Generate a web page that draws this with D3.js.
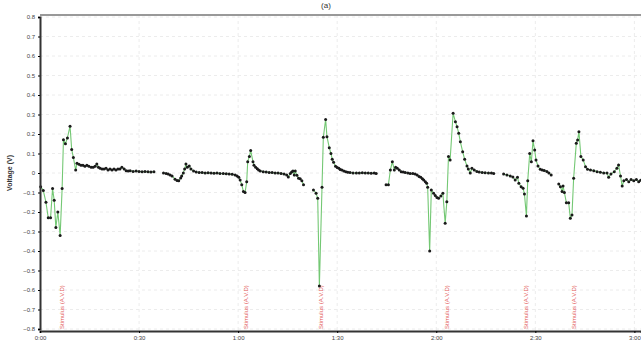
<!DOCTYPE html>
<html>
<head>
<meta charset="utf-8">
<script src="https://cdn.jsdelivr.net/npm/d3@7"></script>
<style>
  body { margin: 0; background: #fff; }
  svg { display: block; font-family: "Liberation Sans", Arial, sans-serif; }
</style>
</head>
<body>
<svg id="chart" width="641" height="349"></svg>
<script>
// time in seconds, voltage in volts; null breaks the trace
const readings = [
  [0.2,-0.07],[1.0,-0.09],[1.8,-0.15],[2.5,-0.23],[3.2,-0.23],[3.8,-0.08],[4.3,-0.14],[4.8,-0.28],
  [5.4,-0.20],[6.1,-0.32],[6.7,-0.08],[7.1,0.17],[7.7,0.15],[8.3,0.18],[9.1,0.24],[9.6,0.12],
  [10.1,0.08],[10.8,0.015],[11.2,0.05],[11.8,0.045],[12.4,0.04],[13.0,0.04],[13.6,0.035],[14.2,0.04],
  [14.8,0.035],[15.5,0.03],[16.1,0.03],[16.7,0.035],[17.2,0.046],[17.7,0.03],[18.2,0.025],[18.8,0.02],
  [19.4,0.02],[20.0,0.025],[20.6,0.015],[21.2,0.02],[21.8,0.015],[22.4,0.02],[23.0,0.015],[23.6,0.02],
  [24.2,0.02],[24.8,0.03],[25.5,0.02],[26.1,0.012],[26.7,0.01],[27.3,0.012],[28.2,0.008],[29.1,0.01],
  [30.0,0.008],[30.9,0.007],[31.8,0.008],[32.7,0.006],[33.6,0.005],[34.5,0.006],
  null,
  [37.4,0.0],[38.2,-0.003],[38.8,-0.005],[39.4,-0.01],[40.0,-0.015],[40.9,-0.032],[41.5,-0.038],[42.0,-0.04],
  [42.6,-0.025],[42.9,-0.015],[43.4,0.0],[43.8,0.02],[44.2,0.046],[44.6,0.03],[45.2,0.036],[45.7,0.02],
  [46.5,0.01],[47.3,0.005],[48.2,0.003],[49.1,0.002],[50.0,0.0],[50.9,0.001],[51.8,0.0],[52.7,-0.001],
  [53.6,0.0],[54.5,-0.002],[55.5,-0.003],[56.4,-0.004],[57.3,-0.005],[58.2,-0.007],[59.1,-0.01],[59.7,-0.015],
  [60.2,-0.022],[60.6,-0.036],[61.1,-0.06],[61.6,-0.095],[62.1,-0.1],[62.6,-0.045],[62.9,0.058],[63.4,0.085],
  [63.8,0.115],[64.5,0.058],[64.8,0.04],[65.3,0.03],[65.8,0.022],[66.2,0.015],[66.7,0.01],[67.6,0.007],
  [68.5,0.005],[69.4,0.003],[70.3,0.002],[71.2,0.0],[72.1,0.0],[73.0,-0.002],[73.9,-0.005],[74.7,-0.01],
  [75.2,-0.02],[75.8,-0.003],[76.2,0.005],[76.6,0.01],[77.0,-0.01],[77.3,0.01],[77.8,-0.012],[78.3,-0.027],
  [78.8,-0.03],[79.3,-0.04],[79.8,-0.06],
  null,
  [82.8,-0.087],[83.6,-0.104],[84.1,-0.13],[84.6,-0.58],[85.4,-0.073],[85.8,0.183],[86.5,0.275],[86.9,0.186],
  [87.6,0.13],[88.1,0.1],[88.5,0.07],[88.9,0.055],[89.5,0.035],[90.0,0.028],[90.5,0.024],[90.9,0.018],
  [91.4,0.015],[92.0,0.01],[92.6,0.007],[93.2,0.004],[93.9,0.002],[94.8,0.0],[95.8,0.0],[96.7,0.0],
  [97.6,0.001],[98.5,0.0],[99.4,0.0],[100.3,-0.001],[101.2,0.0],[101.8,-0.002],
  null,
  [104.8,-0.06],[105.5,-0.06],[106.1,0.015],[106.7,0.058],[107.3,0.015],[107.7,0.03],[108.2,0.024],[108.8,0.015],
  [109.4,0.007],[110.0,0.005],[110.6,0.003],[111.4,0.0],[112.1,-0.003],[112.9,-0.003],[113.6,-0.005],[114.2,-0.01],
  [114.8,-0.018],[115.3,-0.022],[115.8,-0.03],[116.2,-0.036],[116.7,-0.045],[117.1,-0.053],[117.4,-0.073],[118.0,-0.40],
  [118.5,-0.087],[119.2,-0.104],[119.7,-0.115],[120.2,-0.125],[120.7,-0.13],[121.4,-0.118],[122.0,-0.104],[122.7,-0.258],
  [123.2,-0.147],[123.7,0.085],[124.2,0.067],[125.1,0.306],[125.8,0.263],[126.3,0.237],[126.8,0.204],[127.3,0.16],
  [128.0,0.109],[128.6,0.07],[129.3,0.036],[129.7,0.02],[130.3,0.0],[130.8,0.024],[131.5,0.015],[132.3,0.008],
  [133.0,0.005],[133.9,0.003],[134.8,0.001],[135.8,0.0],[136.7,0.0],[137.4,-0.002],
  null,
  [140.4,-0.005],[141.4,-0.01],[142.4,-0.015],[143.2,-0.02],[143.9,-0.036],[144.6,-0.022],[145.0,-0.053],[145.7,-0.07],
  [146.3,-0.078],[146.7,-0.108],[147.3,-0.22],[147.7,-0.04],[148.3,0.1],[148.8,0.058],[149.3,0.165],[149.8,0.118],
  [150.2,0.067],[150.8,0.036],[151.5,0.019],[152.1,0.016],[152.7,0.013],[153.5,0.008],[154.1,0.0],[154.8,-0.01],
  null,
  [157.1,-0.056],[157.6,-0.07],[158.1,-0.095],[158.4,-0.067],[158.8,-0.1],[159.4,-0.152],[160.1,-0.152],[160.6,-0.232],
  [161.1,-0.215],[161.6,-0.027],[162.4,0.152],[162.8,0.169],[163.2,0.212],[163.8,0.085],[164.5,0.067],[165.2,0.032],
  [165.8,0.019],[166.7,0.015],[167.7,0.012],[168.7,0.007],[169.7,0.004],[170.7,0.0],[171.7,0.0],[172.2,-0.022],
  [172.9,-0.005],[173.9,0.007],[174.7,0.024],[175.2,0.041],[175.8,-0.015],[176.3,-0.067],[176.8,-0.04],[177.6,-0.033],
  [178.3,-0.045],[179.0,-0.033],[179.8,-0.04],[180.6,-0.033],[181.3,-0.045],[181.9,-0.037]
];

const markerTimes = [6.7, 62.4, 85.1, 123.2, 147.3, 161.6];
const markerLabel = 'Stimulus (A.V.D)';

const xTicks = [0, 30, 60, 90, 120, 150, 180];
const yTicks = [0.8, 0.7, 0.6, 0.5, 0.4, 0.3, 0.2, 0.1, 0, -0.1, -0.2, -0.3, -0.4, -0.5, -0.6, -0.7, -0.8];

const svg = d3.select('#chart');
const plotLeft = 40, plotTop = 15, plotBottom = 331, plotRight = 641;

const x = d3.scaleLinear().domain([0, 182]).range([plotLeft, 641]);
const y = d3.scaleLinear().domain([-0.8, 0.8]).range([329, 17]);

const fmtTime = s => Math.floor(s / 60) + ':' + String(s % 60).padStart(2, '0');

// title
svg.append('text')
  .attr('x', 326).attr('y', 8)
  .attr('text-anchor', 'middle')
  .style('font-size', '8px')
  .attr('fill', '#333')
  .text('(a)');

// faint grid
const grid = svg.append('g').attr('stroke', '#ececec').attr('stroke-width', 1).attr('stroke-dasharray', '3,3');
grid.selectAll('line.v')
  .data(xTicks.slice(1))
  .enter().append('line')
  .attr('x1', d => x(d)).attr('x2', d => x(d))
  .attr('y1', plotTop).attr('y2', plotBottom);
grid.selectAll('line.h')
  .data(yTicks)
  .enter().append('line')
  .attr('x1', plotLeft).attr('x2', plotRight)
  .attr('y1', d => y(d)).attr('y2', d => y(d));

// top border
svg.append('line')
  .attr('x1', plotLeft).attr('x2', plotRight)
  .attr('y1', plotTop).attr('y2', plotTop)
  .attr('stroke', '#999').attr('stroke-width', 2);

// red event markers
svg.append('g')
  .selectAll('text')
  .data(markerTimes)
  .enter().append('text')
  .attr('transform', d => `translate(${x(d) + 2},${plotBottom - 2}) rotate(-90)`)
  .style('font-size', '6px')
  .attr('fill', '#e35a5a')
  .text(markerLabel);

// trace
const line = d3.line()
  .defined(d => d !== null)
  .x(d => x(d[0]))
  .y(d => y(d[1]));

svg.append('path')
  .datum(readings)
  .attr('fill', 'none')
  .attr('stroke', '#74c874')
  .attr('stroke-width', 1.1)
  .attr('d', line);

svg.append('g')
  .selectAll('circle')
  .data(readings.filter(d => d !== null))
  .enter().append('circle')
  .attr('cx', d => x(d[0]))
  .attr('cy', d => y(d[1]))
  .attr('r', 1.5)
  .attr('fill', '#1a1a1a');

// axes
const yAxis = svg.append('g')
  .attr('transform', `translate(${plotLeft},0)`)
  .call(d3.axisLeft(y).tickValues(yTicks).tickSize(2).tickFormat(d => d === 0 ? '0' : d3.format('.1f')(d)));
yAxis.select('.domain').attr('stroke', '#333').attr('stroke-width', 2);
yAxis.selectAll('text').style('font-size', '6px').attr('fill', '#444');

const xAxis = svg.append('g')
  .attr('transform', `translate(0,${plotBottom})`)
  .call(d3.axisBottom(x).tickValues(xTicks).tickSize(2).tickFormat(fmtTime));
xAxis.select('.domain').attr('stroke', '#333').attr('stroke-width', 2);
xAxis.selectAll('text').style('font-size', '6px').attr('fill', '#444');

svg.append('text')
  .attr('transform', `translate(12,${y(0)}) rotate(-90)`)
  .attr('text-anchor', 'middle')
  .style('font-size', '7px')
  .attr('font-weight', 'bold')
  .attr('fill', '#333')
  .text('Voltage (V)');
</script>
</body>
</html>
